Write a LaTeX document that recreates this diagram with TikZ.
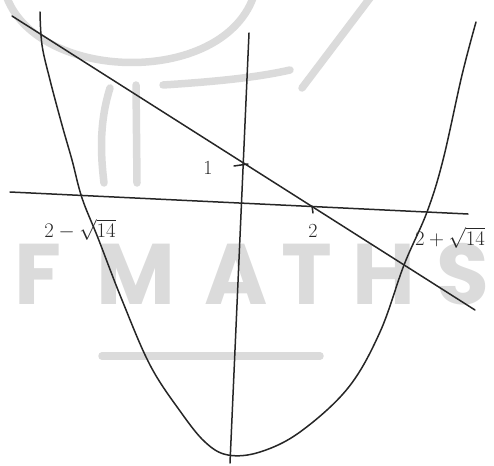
\documentclass[tikz,border=0pt]{standalone}
\usepackage{fontspec}
\newfontfamily\wmfont{Poppins}
\usetikzlibrary{calc}
\tikzset{
  ink/.style={line width=1.5pt, black!85},
  lbl/.style={font=\fontsize{20}{24}\selectfont, inner sep=0pt, black!85},
  wmline/.style={line width=7.5pt, black!14},
  wmtext/.style={font=\wmfont\bfseries\fontsize{86}{86}\selectfont, black!14, inner sep=0pt},
  every picture/.style={line cap=round, line join=round}
}
\begin{document}
\begin{tikzpicture}[x=1pt,y=-1pt]
  \useasboundingbox (0,0) rectangle (494,465);
  % watermark
  \draw[wmline] (7,-2) .. controls (40,82) and (220,86) .. (253,-2);
  \draw[wmline] (163,85) .. controls (210,82) and (255,78) .. (290,70);
  \draw[wmline] (302,88) -- (370,-2);
  \draw[wmline] (110,88) .. controls (100,120) and (100,150) .. (104,183);
  \draw[wmline] (136,85) -- (137,183);
  \draw[wmline] (102,356) -- (320,356);
  \foreach \ch/\px in {F/38, M/136, A/236, T/307, H/384, S/463}
    \node[wmtext] (wm\ch) at (\px,274) {\ch};
  % axes
  \coordinate (xl) at (10,192);
  \coordinate (xr) at (468,214);
  \coordinate (yt) at (249,33);
  \coordinate (yb) at (230,463);
  \draw[ink] (xl) -- (xr);
  \draw[ink] (yt) -- (yb);
  % straight line
  \coordinate (la) at (12,16);
  \coordinate (lb) at (475,310);
  \draw[ink] (la) -- (lb);
  % parabola
  \draw[ink] plot[smooth, tension=0.6] coordinates {
    (40,12) (42,45) (50,80) (62,125) (72,160) (82,198) (98,238) (122,300)
    (150,365) (180,411) (205,442) (228,455) (260,452) (300,432) (348,388)
    (380,332) (404,265) (427,212) (443,160) (462,75) (476,22)};
  % ticks
  \coordinate (t1) at (234,166);
  \coordinate (t1r) at (248,164);
  \draw[ink] (t1) -- (t1r);
  \coordinate (t2) at (312,206);
  \coordinate (t2b) at (313,213);
  \draw[ink] (t2) -- (t2b);
  % labels
  \node[lbl] (one) at (208,168) {1};
  \node[lbl] (two) at (313,231) {2};
  \node[lbl] (root1) at (80,230) {$2-\sqrt{14}$};
  \node[lbl] (root2) at (450,238) {$2+\sqrt{14}$};
\end{tikzpicture}
\end{document}
